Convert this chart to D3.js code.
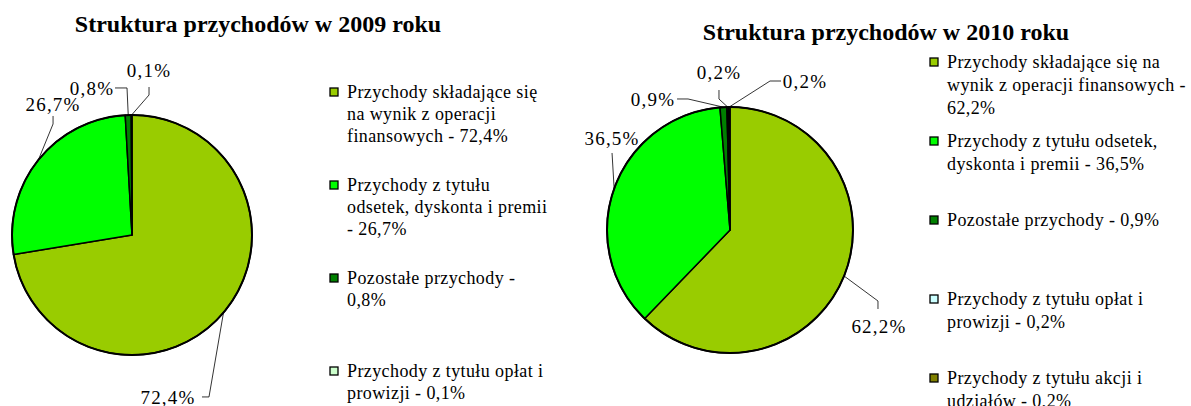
<!DOCTYPE html>
<html>
<head>
<meta charset="utf-8">
<script src="https://cdn.jsdelivr.net/npm/d3@7"></script>
<style>
  body { margin: 0; background: #fff; }
  text { font-family: "Liberation Serif", "Times New Roman", serif; fill: #000; }
</style>
</head>
<body>
<div id="chart"></div>
<script>
// data 2009
const cats2009 = [
    ['Przychody składające się', 'na wynik z operacji', 'finansowych - 72,4%'],
    ['Przychody z tytułu', 'odsetek, dyskonta i premii', '- 26,7%'],
    ['Pozostałe przychody -', '0,8%'],
    ['Przychody z tytułu opłat i', 'prowizji - 0,1%']
]
const values2009 = [72.4, 26.7, 0.8, 0.1]
const colors2009 = ['#99CC00', '#00FF00', '#008000', '#CCFFCC']

// data 2010
const cats2010 = [
    ['Przychody składające się na', 'wynik z operacji finansowych -', '62,2%'],
    ['Przychody z tytułu odsetek,', 'dyskonta i premii - 36,5%'],
    ['Pozostałe przychody - 0,9%'],
    ['Przychody z tytułu opłat i', 'prowizji - 0,2%'],
    ['Przychody z tytułu akcji i', 'udziałów - 0,2%']
]
const values2010 = [62.2, 36.5, 0.9, 0.2, 0.2]
const colors2010 = ['#99CC00', '#00FF00', '#008000', '#CCFFFF', '#808000']

const fmt = v => d3.format('.1f')(v).replace('.', ',') + '%'

const width = 1191, height = 406
const svg = d3.select('#chart').append('svg')
    .attr('width', width)
    .attr('height', height)

// leader line bends and label centre, relative to slice edge point
const leaders2009 = [
    { pts: [[-14.5, 84.3], [-21.5, 84.3]], label: [-55.5, 84.3] },
    { pts: [[14.7, -36], [14.7, -44]], label: [14.7, -56] },
    { pts: [[-1.2, -27.1], [-13.2, -27.1]], label: [-36.2, -27.1] },
    { pts: [[17.4, -20], [17.4, -28]], label: [17.4, -45] }
]
const leaders2010 = [
    { pts: [[33.9, 25], [33.9, 33]], label: [34.9, 50] },
    { pts: [[-2.1, -35.7]], label: [-2.1, -50.7] },
    { pts: [[-35.4, -8.2], [-46.4, -8.2]], label: [-70.4, -8.2] },
    { pts: [[-8.7, -8], [-8.7, -17]], label: [-8.7, -35] },
    { pts: [[40.8, -26], [51.8, -26]], label: [75.8, -26] }
]

function drawPie(cfg) {
    const g = svg.append('g')
        .attr('transform', 'translate(' + cfg.cx + ',' + cfg.cy + ')')
    const pie = d3.pie().sort(null).value(d => d)
    const arcs = pie(cfg.values)
    const arc = d3.arc().innerRadius(0).outerRadius(cfg.r)

    g.selectAll('path.slice')
        .data(arcs)
        .enter().append('path')
        .attr('class', 'slice')
        .attr('d', arc)
        .attr('fill', (d, i) => cfg.colors[i])
        .attr('stroke', '#000')
        .attr('stroke-width', 1.5)
        .attr('stroke-linejoin', 'round')
    g.append('circle')
        .attr('r', cfg.r)
        .attr('fill', 'none')
        .attr('stroke', '#000')
        .attr('stroke-width', 2)

    arcs.forEach((d, i) => {
        const a = (d.startAngle + d.endAngle) / 2
        const ex = cfg.r * Math.sin(a), ey = -cfg.r * Math.cos(a)
        const L = cfg.leaders[i]
        const pts = [[ex, ey]].concat(L.pts.map(p => [ex + p[0], ey + p[1]]))
        g.append('path')
            .attr('d', d3.line()(pts))
            .attr('fill', 'none')
            .attr('stroke', '#000')
            .attr('stroke-width', 0.8)
        g.append('text')
            .attr('x', ex + L.label[0])
            .attr('y', ey + L.label[1])
            .attr('dy', '0.35em')
            .attr('text-anchor', 'middle')
            .style('font-size', '19px')
            .style('letter-spacing', '1.2px')
            .text(fmt(d.data))
    })

    svg.append('text')
        .attr('x', cfg.titleX)
        .attr('y', cfg.titleY)
        .attr('text-anchor', 'middle')
        .style('font-size', '24px')
        .style('font-weight', 'bold')
        .text(cfg.title)

    const lg = svg.append('g')
    cfg.cats.forEach((lines, i) => {
        const y0 = cfg.legY + i * cfg.legStep
        lg.append('rect')
            .attr('x', cfg.legX)
            .attr('y', y0 - 4)
            .attr('width', 8)
            .attr('height', 8)
            .attr('fill', cfg.colors[i])
            .attr('stroke', '#000')
            .attr('stroke-width', 1.3)
        const t = lg.append('text')
            .attr('x', cfg.legX + 17)
            .attr('y', y0)
            .attr('dy', '0.35em')
            .style('font-size', '18px')
            .style('letter-spacing', '0.4px')
        lines.forEach((s, j) => {
            t.append('tspan')
                .attr('x', cfg.legX + 17)
                .attr('y', y0 + j * cfg.lineH)
                .attr('dy', '0.35em')
                .text(s)
        })
    })
}

drawPie({
    cx: 132, cy: 235, r: 120,
    values: values2009, colors: colors2009, cats: cats2009, leaders: leaders2009,
    title: 'Struktura przychodów w 2009 roku', titleX: 258, titleY: 32,
    legX: 330, legY: 92, legStep: 93, lineH: 22
})
drawPie({
    cx: 730, cy: 230, r: 123,
    values: values2010, colors: colors2010, cats: cats2010, leaders: leaders2010,
    title: 'Struktura przychodów w 2010 roku', titleX: 886, titleY: 40,
    legX: 930, legY: 62, legStep: 79, lineH: 23
})
</script>
</body>
</html>
